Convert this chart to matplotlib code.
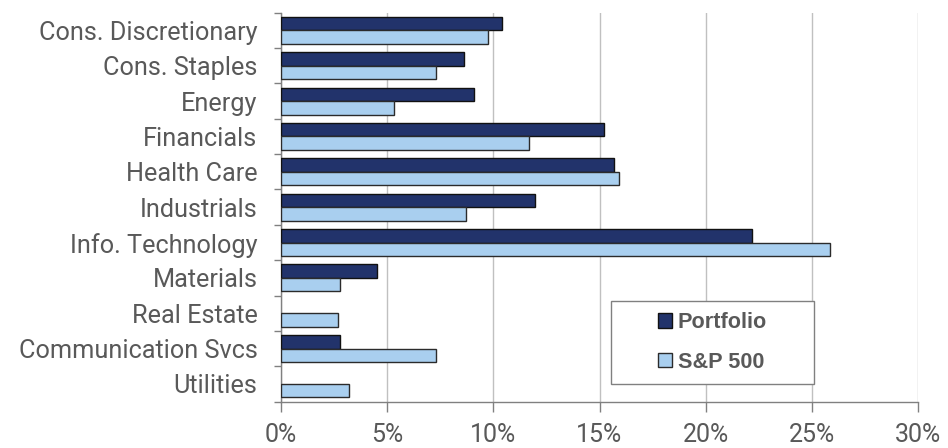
import numpy as np
import matplotlib
matplotlib.use("Agg")
import matplotlib.pyplot as plt
from matplotlib.patches import Rectangle
from matplotlib.ticker import FuncFormatter, FixedLocator

sectors = ["Cons. Discretionary", "Cons. Staples", "Energy", "Financials",
           "Health Care", "Industrials", "Info. Technology", "Materials",
           "Real Estate", "Communication Svcs", "Utilities"]
portfolio = [10.4, 8.6, 9.1, 15.2, 15.7, 11.95, 22.2, 4.5, 0.0, 2.8, 0.0]
sp500 = [9.75, 7.3, 5.3, 11.7, 15.9, 8.7, 25.85, 2.8, 2.7, 7.3, 3.2]
xticks = [0, 5, 10, 15, 20, 25, 30]

plt.rcParams['font.family'] = ['Roboto', 'DejaVu Sans']
text_color = '#595959'

fig = plt.figure(figsize=(9.48, 4.48), dpi=100)
ax = fig.add_axes([0.2964, 0.1034, 0.6720, 0.8683])

y = np.arange(len(sectors))
h = 0.38
b1 = ax.barh(y - 0.19, portfolio, height=h, color='#22336B', edgecolor='#111111',
             linewidth=1.0, label='Portfolio', zorder=3)
b2 = ax.barh(y + 0.19, sp500, height=h, color='#A9CFEF', edgecolor='#2b2b2b',
             linewidth=1.0, label='S&P 500', zorder=3)
# zero-weight sectors show no bar at all
for bars, vals in ((b1, portfolio), (b2, sp500)):
    for r, v in zip(bars, vals):
        if v == 0:
            r.set_visible(False)

ax.set_ylim(len(sectors) - 0.5, -0.5)
ax.set_xlim(0, 30)
ax.set_xticks(xticks)
ax.xaxis.set_major_formatter(FuncFormatter(lambda v, p: f"{v:.0f}%"))
ax.set_yticks(y)
ax.set_yticklabels(sectors)
ax.yaxis.set_minor_locator(FixedLocator(np.arange(-0.5, len(sectors), 1)))

ax.grid(axis='x', color='#C0C0C0', linewidth=1.0, zorder=0)
for s in ['top', 'right']:
    ax.spines[s].set_visible(False)
for s in ['left', 'bottom']:
    ax.spines[s].set_color('#808080')
    ax.spines[s].set_linewidth(1.0)

ax.tick_params(axis='y', which='major', length=0, pad=17, labelsize=18.2,
               labelcolor=text_color)
ax.tick_params(axis='y', which='minor', length=5, color='#808080', width=1.0)
ax.tick_params(axis='x', which='major', length=7, color='#808080', width=1.0,
               pad=8, labelsize=18, labelcolor=text_color)

# legend box drawn separately so it can be wider than its contents
fig.patches.append(Rectangle((0.6445, 0.1429), 0.2141, 0.1853,
                             transform=fig.transFigure, facecolor='white',
                             edgecolor='#808080', linewidth=1.0, zorder=5))
leg = fig.legend(handles=[b1, b2], loc='center', bbox_to_anchor=(0.7516, 0.2355),
                 frameon=False, prop={'family': 'Liberation Sans', 'weight': 'bold', 'size': 15.6},
                 labelcolor=text_color, handlelength=0.65, handleheight=0.65,
                 handletextpad=0.25, labelspacing=0.85)
leg.set_zorder(6)

fig.savefig("out.png", dpi=100)
